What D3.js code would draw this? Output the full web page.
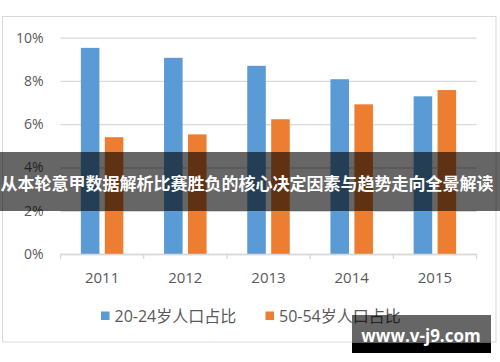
<!DOCTYPE html>
<html>
<head>
<meta charset="utf-8">
<script src="https://cdn.jsdelivr.net/npm/d3@7"></script>
<style>
  body { margin: 0; background: #fff; }
  svg { display: block; }
</style>
</head>
<body>
<div id="myPlot"></div>
<script>
// chart data
const years = ["2011", "2012", "2013", "2014", "2015"];
const seriesNames = ["20-24岁人口占比", "50-54岁人口占比"];
const young = [0.0953, 0.0907, 0.0870, 0.0808, 0.0729];
const older = [0.0540, 0.0553, 0.0623, 0.0692, 0.0758];
const yTicks = [0, 0.02, 0.04, 0.06, 0.08, 0.10];
const colors = ["#5b9bd5", "#ed7d31"];
const bannerText = "从本轮意甲数据解析比赛胜负的核心决定因素与趋势走向全景解读";
const watermark = "www.v-j9.com";

window.onload = () => {
  const width = 500;
  const height = 362;
  const left = 60.5, right = 476.5, top = 37.7, bottom = 254;

  const svg = d3.select("#myPlot")
    .append("svg")
    .attr("width", width)
    .attr("height", height);

  // chart frame
  svg.append("rect")
    .attr("x", 2.5).attr("y", 16.5)
    .attr("width", 493.5).attr("height", 325.5)
    .attr("fill", "#fff")
    .attr("stroke", "#d9d9d9");

  const x = d3.scaleBand().domain(years).range([left, right]);
  const inner = d3.scaleBand().domain([0, 1])
    .range([0, x.bandwidth()])
    .paddingInner(0.225).paddingOuter(0.85);
  const y = d3.scaleLinear().domain([0, 0.10]).range([bottom, top]);

  // Y axis with gridlines
  const yAxis = svg.append("g")
    .attr("transform", "translate(" + left + ",0)")
    .call(d3.axisLeft(y).tickValues(yTicks).tickFormat(d3.format(".0%"))
      .tickSize(-(right - left)).tickPadding(17));
  yAxis.select(".domain").remove();
  yAxis.selectAll(".tick line").attr("stroke", "#d9d9d9").attr("stroke-width", 1.3);
  yAxis.selectAll(".tick text")
    .attr("fill", "#595959")
    .style("font", "14px 'Open Sans', sans-serif");

  // bars
  const data = [young, older];
  data.forEach((vals, s) => {
    svg.append("g")
      .selectAll("rect")
      .data(vals).enter()
      .append("rect")
      .attr("x", (d, i) => x(years[i]) + inner(s))
      .attr("y", d => y(d))
      .attr("width", inner.bandwidth())
      .attr("height", d => y(0) - y(d))
      .attr("fill", colors[s]);
  });

  // X axis
  const xAxis = svg.append("g")
    .attr("transform", "translate(0," + bottom + ")")
    .call(d3.axisBottom(x).tickSize(0).tickPadding(18));
  xAxis.select(".domain").attr("stroke", "#d9d9d9").attr("stroke-width", 1.3);
  xAxis.selectAll(".tick text")
    .attr("fill", "#595959")
    .style("font", "15px 'Open Sans', sans-serif");
  const bounds = years.map(d => x(d)).concat([x(years[years.length - 1]) + x.bandwidth()]);
  xAxis.append("g").selectAll("line")
    .data(bounds).enter()
    .append("line")
    .attr("x1", d => d).attr("x2", d => d)
    .attr("y1", 0).attr("y2", 5)
    .attr("stroke", "#d9d9d9").attr("stroke-width", 1.3);

  // legend
  const legendX = [101, 265.5];
  const legend = svg.append("g");
  seriesNames.forEach((name, s) => {
    legend.append("rect")
      .attr("x", legendX[s]).attr("y", 311.5)
      .attr("width", 8.5).attr("height", 8.5)
      .attr("fill", colors[s]);
    legend.append("text")
      .attr("x", legendX[s] + 13.5).attr("y", 321.5)
      .attr("fill", "#595959")
      .style("font", "16px 'Open Sans', 'Noto Sans CJK SC', sans-serif")
      .text(name);
  });

  // banner overlay
  svg.append("rect")
    .attr("x", 0).attr("y", 152)
    .attr("width", width).attr("height", 59)
    .attr("fill", "rgba(0,0,0,0.6)");
  svg.append("text")
    .attr("x", 247).attr("y", 182)
    .attr("text-anchor", "middle")
    .attr("dominant-baseline", "central")
    .attr("fill", "#fff")
    .style("font", "bold 17px 'Noto Sans CJK SC', sans-serif")
    .text(bannerText);

  // watermark
  svg.append("rect")
    .attr("x", 352).attr("y", 315)
    .attr("width", 139).attr("height", 28)
    .attr("fill", "rgba(0,0,0,0.6)");
  svg.append("rect")
    .attr("x", 352).attr("y", 343)
    .attr("width", 139).attr("height", 10)
    .attr("fill", "#000");
  svg.append("text")
    .attr("x", 421).attr("y", 342)
    .attr("text-anchor", "middle")
    .attr("fill", "#fff")
    .style("font", "bold 17px 'Open Sans', sans-serif")
    .text(watermark);
};
</script>
</body>
</html>
